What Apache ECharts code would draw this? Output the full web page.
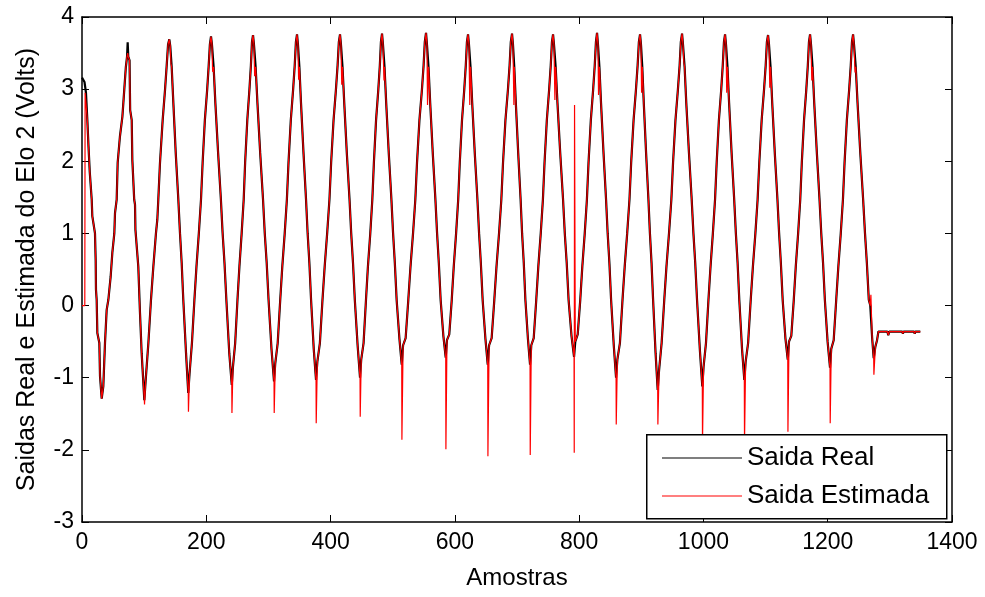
<!DOCTYPE html>
<html>
<head>
<meta charset="utf-8">
<script src="https://cdn.jsdelivr.net/npm/echarts@6/dist/echarts.min.js"></script>
<style>
html,body{margin:0;padding:0;background:#fff;}
#chart{width:985px;height:597px;}
</style>
</head>
<body>
<div id="chart"></div>
<script>
// ---- data ----
const xTicks = [0, 200, 400, 600, 800, 1000, 1200, 1400];
const yTicks = [-3, -2, -1, 0, 1, 2, 3, 4];
const seriesNames = ['Saida Real', 'Saida Estimada'];
const axisTitles = { x: 'Amostras', y: 'Saidas Real e Estimada do Elo 2 (Volts)' };

// Saida Real: [amostra, volts]
const realOutput = [
[0,3.16],[2,3.16],[4,3.1],[6.4,2.95],[8.6,2.57],[10.5,2.2],[12.5,1.85],[15.6,1.47],[16.6,1.24],[20.9,1.0],[22,0.63],[22.5,0.22],[23.6,0.08],[24.7,-0.38],[27.9,-0.52],[29,-0.98],[31.7,-1.29],
[34.3,-1.12],[37,-0.52],[39.7,-0.06],[42.4,0.08],[46.1,0.4],[48.8,0.73],[52,1.0],[53.1,1.28],[55.8,1.47],[57.4,1.98],[61,2.34],[65,2.62],[68,2.99],[70.5,3.3],[72.5,3.45],[73.5,3.65],[74.5,3.45],
[76.5,3.4],[77.5,2.71],[80,2.57],[81,2.02],[84,1.47],[85.3,1.4],[86,1.05],[90.6,0.54],[93.3,-0.1],[96,-0.66],[100.3,-1.31],
[102.5,-1.03],[106.8,-0.52],[111,0.08],[114.8,0.54],[119,1.0],[121.2,1.19],[122.8,1.47],[125.5,1.98],[129.8,2.57],[133.6,2.99],[136.3,3.33],[138.5,3.62],[140.5,3.69],[142,3.6],
[144.3,3.31],[147,2.81],[150.8,2.12],[155,1.47],[157.7,1.0],[160.4,0.59],[163,0.08],[167.4,-0.66],[171,-1.21],
[173.0,-0.95],[176.9,-0.52],[180.9,0.08],[184.2,0.54],[188.0,1.0],[191.5,1.47],[194.1,1.98],[197.7,2.57],[201.4,2.99],[203.9,3.33],[205.8,3.62],[207.6,3.73],
[209.1,3.62],[211.8,3.31],[214.6,2.81],[219.0,2.12],[223.5,1.47],[226.3,1.0],[229.3,0.59],[232.3,0.08],[237.0,-0.66],[241,-1.1],
[242.9,-0.85],[246.5,-0.52],[250.2,0.08],[253.3,0.54],[256.9,1.0],[260.2,1.47],[262.5,1.98],[266.0,2.57],[269.4,2.99],[271.8,3.33],[273.5,3.65],[275.2,3.75],
[276.7,3.62],[279.4,3.31],[282.3,2.81],[286.7,2.12],[291.3,1.47],[294.1,1.0],[297.2,0.59],[300.2,0.08],[304.9,-0.6],[309,-1.05],
[311.0,-0.8],[314.9,-0.52],[319.0,0.08],[322.3,0.54],[326.2,1.0],[329.7,1.47],[332.3,1.98],[336.0,2.57],[339.7,2.99],[342.3,3.33],[344.2,3.65],[346,3.76],
[347.5,3.62],[349.8,3.31],[352.4,2.81],[356.4,2.12],[360.5,1.47],[363.1,1.0],[365.9,0.59],[368.6,0.08],[372.9,-0.6],[376.6,-1.03],
[378.7,-0.78],[382.8,-0.52],[387.0,0.08],[390.5,0.54],[394.5,1.0],[398.2,1.47],[400.9,1.98],[404.8,2.57],[408.6,2.99],[411.3,3.33],[413.3,3.65],[415.2,3.76],
[416.7,3.62],[419.2,3.31],[422.0,2.81],[426.1,2.12],[430.5,1.47],[433.2,1.0],[436.1,0.59],[439.0,0.08],[443.5,-0.55],[447.4,-1.0],
[449.3,-0.75],[453.1,-0.52],[457.0,0.08],[460.1,0.54],[463.9,1.0],[467.2,1.47],[469.7,1.98],[473.2,2.57],[476.8,2.99],[479.3,3.33],[481.0,3.65],[482.8,3.77],
[484.3,3.62],[486.8,3.31],[489.5,2.81],[493.6,2.12],[497.9,1.47],[500.6,1.0],[503.4,0.59],[506.3,0.08],[510.7,-0.45],[514.5,-0.82],
[516.7,-0.55],[520.8,-0.45],[525.1,0.08],[528.6,0.54],[532.7,1.0],[536.4,1.47],[539.1,1.98],[543.0,2.57],[547.0,2.99],[549.7,3.33],[551.6,3.65],[553.6,3.78],
[555.1,3.62],[557.6,3.31],[560.3,2.81],[564.4,2.12],[568.7,1.47],[571.4,1.0],[574.2,0.59],[577.1,0.08],[581.5,-0.42],[585.3,-0.72],
[587.3,-0.48],[591.0,-0.4],[595.0,0.08],[598.2,0.54],[602.0,1.0],[605.4,1.47],[607.9,1.98],[611.5,2.57],[615.1,2.99],[617.6,3.33],[619.4,3.65],[621.2,3.76],
[622.7,3.62],[625.2,3.31],[627.9,2.81],[632.0,2.12],[636.3,1.47],[639.0,1.0],[641.8,0.59],[644.7,0.08],[649.1,-0.45],[652.9,-0.82],
[655.1,-0.55],[659.2,-0.45],[663.5,0.08],[667.0,0.54],[671.1,1.0],[674.8,1.47],[677.5,1.98],[681.4,2.57],[685.4,2.99],[688.1,3.33],[690.0,3.65],[692,3.77],
[693.5,3.62],[695.6,3.31],[698.1,2.81],[701.9,2.12],[705.8,1.47],[708.2,1.0],[710.9,0.59],[713.5,0.08],[717.5,-0.45],[721,-0.82],
[723.0,-0.55],[726.9,-0.45],[731.0,0.08],[734.3,0.54],[738.2,1.0],[741.7,1.47],[744.3,1.98],[748.0,2.57],[751.7,2.99],[754.3,3.33],[756.2,3.65],[758,3.76],
[759.5,3.62],[762.2,3.31],[765.1,2.81],[769.5,2.12],[774.1,1.47],[776.9,1.0],[780.0,0.59],[783.0,0.08],[787.7,-0.42],[791.8,-0.71],
[793.8,-0.5],[797.7,-0.4],[801.8,0.08],[805.1,0.54],[809.0,1.0],[812.5,1.47],[815.1,1.98],[818.8,2.57],[822.5,2.99],[825.1,3.33],[827.0,3.65],[828.8,3.78],
[830.3,3.62],[832.6,3.31],[835.2,2.81],[839.2,2.12],[843.3,1.47],[845.9,1.0],[848.7,0.59],[851.4,0.08],[855.7,-0.55],[859.4,-1.0],
[861.5,-0.75],[865.6,-0.52],[869.8,0.08],[873.3,0.54],[877.3,1.0],[881.0,1.47],[883.7,1.98],[887.6,2.57],[891.4,2.99],[894.1,3.33],[896.1,3.65],[898,3.76],
[899.5,3.62],[901.6,3.31],[904.0,2.81],[907.7,2.12],[911.5,1.47],[913.9,1.0],[916.5,0.59],[919.0,0.08],[923.0,-0.66],[926.4,-1.17],
[928.6,-0.9],[932.7,-0.52],[937.0,0.08],[940.5,0.54],[944.6,1.0],[948.4,1.47],[951.1,1.98],[955.0,2.57],[958.9,2.99],[961.7,3.33],[963.6,3.65],[965.6,3.77],
[967.1,3.62],[969.7,3.31],[972.4,2.81],[976.7,2.12],[981.1,1.47],[983.9,1.0],[986.8,0.59],[989.7,0.08],[994.3,-0.62],[998.2,-1.12],
[1000.2,-0.85],[1004.1,-0.52],[1008.1,0.08],[1011.4,0.54],[1015.2,1.0],[1018.7,1.47],[1021.3,1.98],[1024.9,2.57],[1028.6,2.99],[1031.1,3.33],[1033.0,3.65],[1034.8,3.76],
[1036.3,3.62],[1038.7,3.31],[1041.3,2.81],[1045.3,2.12],[1049.5,1.47],[1052.2,1.0],[1055.0,0.59],[1057.7,0.08],[1062.1,-0.6],[1065.8,-1.03],
[1067.9,-0.78],[1071.9,-0.52],[1076.1,0.08],[1079.6,0.54],[1083.6,1.0],[1087.2,1.47],[1089.9,1.98],[1093.7,2.57],[1097.5,2.99],[1100.2,3.33],[1102.1,3.65],[1104,3.75],
[1105.5,3.62],[1108.0,3.31],[1110.7,2.81],[1114.8,2.12],[1119.1,1.47],[1121.8,1.0],[1124.6,0.59],[1127.5,0.08],[1131.9,-0.45],[1135.7,-0.75],
[1137.7,-0.5],[1141.4,-0.42],[1145.4,0.08],[1148.6,0.54],[1152.4,1.0],[1155.8,1.47],[1158.3,1.98],[1161.9,2.57],[1165.5,2.99],[1168.0,3.33],[1169.8,3.65],[1171.6,3.76],
[1173.1,3.62],[1175.6,3.31],[1178.3,2.81],[1182.5,2.12],[1186.8,1.47],[1189.6,1.0],[1192.5,0.59],[1195.4,0.08],[1199.8,-0.5],[1203.7,-0.86],
[1205.7,-0.6],[1209.6,-0.48],[1213.7,0.08],[1217.1,0.54],[1221.0,1.0],[1224.5,1.47],[1227.1,1.98],[1230.8,2.57],[1234.5,2.99],[1237.1,3.33],[1239.0,3.65],[1240.8,3.76],
[1242.3,3.62],[1245.1,3.31],[1248.0,2.81],[1252.4,2.12],[1257.0,1.47],[1260.0,1.0],[1263.0,0.59],[1266.1,0.08],[1268.5,0.0],[1271.5,-0.45],[1274,-0.73],
[1276.7,-0.57],[1279.4,-0.48],[1281.6,-0.36],[1296,-0.36],[1297.5,-0.41],[1299,-0.36],[1320,-0.36],[1321,-0.39],[1322,-0.36],[1339,-0.36],[1340,-0.39],[1341,-0.36],[1349,-0.36]
];

// Saida Estimada: starts at 0, then follows the real output except where it differs (spikes)
const estimatedStart = [[0,0],[4.5,0],[5,2.95]];
const estimatedDiffs = [
[73.5,3.5],[100.6,-1.37],[143.2,3.35],[171.3,-1.47],[210.2,3.24],[241.3,-1.49],[277.8,3.18],[309.3,-1.49],
[348.6,3.13],[376.9,-1.63],[418.0,3.06],[447.7,-1.54],[486.0,3.12],[514.8,-1.86],[556.0,2.78],[585.6,-1.99],
[624.0,2.78],[653.2,-2.09],[695.0,2.78],[721.3,-2.07],[761.0,2.85],[792.1,-2.04],[792.6,2.78],[831.2,2.92],
[859.7,-1.65],[900.5,2.95],[926.7,-1.65],[968.5,3.38],[998.5,-1.9],[1037.5,2.95],[1066.1,-1.9],[1106.8,3.02],
[1136.0,-1.75],[1174.4,3.12],[1204.0,-1.63],[1244.0,3.23],[1269.5,0.15],[1274.3,-0.96]
];

// ---- build estimated series from the arrays above ----
const startEnd = estimatedStart[estimatedStart.length - 1][0];
const diffMap = new Map(estimatedDiffs.map(p => [p[0], p[1]]));
const estimatedOutput = estimatedStart.slice();
const rest = [];
realOutput.forEach(p => {
  if (p[0] <= startEnd) return;
  if (diffMap.has(p[0])) { rest.push([p[0], diffMap.get(p[0])]); diffMap.delete(p[0]); }
  else rest.push([p[0], p[1]]);
});
diffMap.forEach((v, k) => rest.push([k, v]));
rest.sort((a, b) => a[0] - b[0]);
rest.forEach(p => estimatedOutput.push(p));

const FONT = 'Liberation Sans, Arial, sans-serif';
const chart = echarts.init(document.getElementById('chart'), null, { renderer: 'canvas' });

const tickStyle = { show: true, inside: true, length: 7, lineStyle: { color: '#000', width: 1 } };
const lineStyleAxis = { show: true, onZero: false, lineStyle: { color: '#000', width: 1.5 } };
const plain = v => String(v);

chart.setOption({
  animation: false,
  backgroundColor: '#fff',
  grid: { left: 82, right: 33, top: 17, bottom: 75, containLabel: false },
  xAxis: [
    { type: 'value', position: 'bottom', min: xTicks[0], max: xTicks[xTicks.length - 1], interval: 200,
      axisLine: lineStyleAxis, axisTick: tickStyle, splitLine: { show: false },
      axisLabel: { color: '#000', fontFamily: FONT, fontSize: 23, margin: 9, formatter: plain },
      name: axisTitles.x, nameLocation: 'middle', nameGap: 44,
      nameTextStyle: { color: '#000', fontFamily: FONT, fontSize: 24 } },
    { type: 'value', position: 'top', min: xTicks[0], max: xTicks[xTicks.length - 1], interval: 200,
      axisLine: lineStyleAxis, axisTick: tickStyle, axisLabel: { show: false }, splitLine: { show: false } }
  ],
  yAxis: [
    { type: 'value', position: 'left', min: yTicks[0], max: yTicks[yTicks.length - 1], interval: 1,
      axisLine: lineStyleAxis, axisTick: tickStyle, splitLine: { show: false },
      axisLabel: { color: '#000', fontFamily: FONT, fontSize: 23, margin: 8, formatter: plain },
      name: axisTitles.y, nameLocation: 'middle', nameGap: 42,
      nameTextStyle: { color: '#000', fontFamily: FONT, fontSize: 25 } },
    { type: 'value', position: 'right', min: yTicks[0], max: yTicks[yTicks.length - 1], interval: 1,
      axisLine: lineStyleAxis, axisTick: tickStyle, axisLabel: { show: false }, splitLine: { show: false } }
  ],
  graphic: [
    { type: 'rect', left: 646, top: 434, z: 3,
      shape: { width: 300, height: 84 },
      style: { fill: '#fff', stroke: '#000', lineWidth: 1.5 } }
  ],
  legend: {
    show: true, orient: 'vertical', left: 646, top: 434, z: 10,
    padding: [10, 12, 8, 16], itemGap: 10,
    icon: 'rect', itemWidth: 80, itemHeight: 1.2,
    textStyle: { color: '#000', fontFamily: FONT, fontSize: 26, lineHeight: 28 },
    data: seriesNames
  },
  series: [
    { name: seriesNames[0], type: 'line', data: realOutput, symbol: 'none', showSymbol: false,
      lineStyle: { color: '#000', width: 2.2 }, itemStyle: { color: '#000' }, z: 2 },
    { name: seriesNames[1], type: 'line', data: estimatedOutput, symbol: 'none', showSymbol: false,
      lineStyle: { color: '#ff0000', width: 1.2 }, itemStyle: { color: '#ff0000' }, z: 2 }
  ]
});
</script>
</body>
</html>
